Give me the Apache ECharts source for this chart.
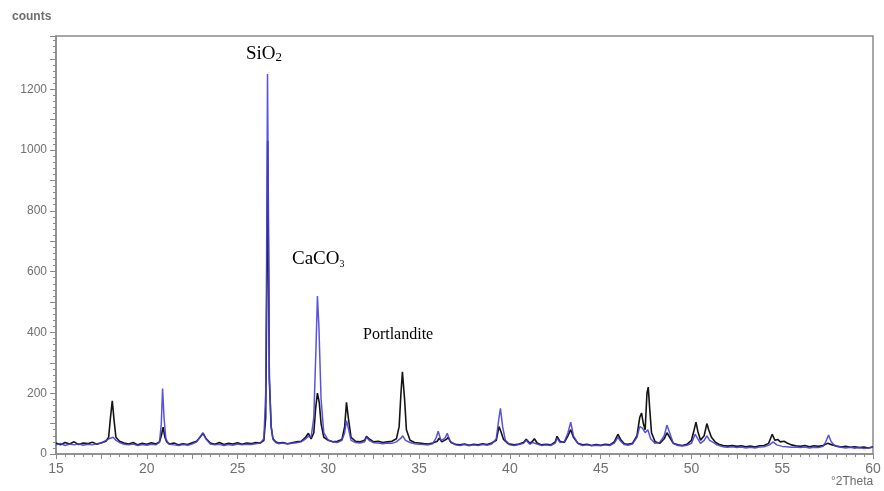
<!DOCTYPE html>
<html><head><meta charset="utf-8">
<script src="https://cdn.jsdelivr.net/npm/echarts@6/dist/echarts.min.js"></script>
<style>html,body{margin:0;padding:0;background:#fff}#c{width:884px;height:491px}</style>
</head><body><div id="c"></div>
<script>
// ---- data ----
const blackTheta = [15.0,15.25,15.5,15.75,16.0,16.25,16.5,16.75,17.0,17.25,17.5,17.75,17.9,18.0,18.1,18.2,18.3,18.5,18.75,19.0,19.25,19.5,19.75,20.0,20.25,20.5,20.7,20.8,20.9,21.0,21.1,21.25,21.5,21.75,22.0,22.25,22.5,22.75,23.0,23.1,23.25,23.5,23.75,24.0,24.25,24.5,24.75,25.0,25.25,25.5,25.75,26.0,26.25,26.45,26.55,26.62,26.66,26.7,26.75,26.85,26.95,27.1,27.25,27.5,27.75,28.0,28.25,28.5,28.75,28.9,29.05,29.2,29.3,29.4,29.5,29.6,29.75,30.0,30.25,30.5,30.75,30.9,31.0,31.1,31.25,31.5,31.75,32.0,32.1,32.25,32.5,32.75,33.0,33.25,33.5,33.75,33.9,34.0,34.08,34.2,34.3,34.5,34.75,35.0,35.25,35.5,35.75,36.0,36.1,36.25,36.5,36.6,36.75,37.0,37.25,37.5,37.75,38.0,38.25,38.5,38.75,39.0,39.25,39.4,39.5,39.65,39.9,40.25,40.5,40.75,40.9,41.1,41.25,41.35,41.5,41.75,42.0,42.25,42.5,42.6,42.75,43.0,43.2,43.35,43.5,43.75,44.0,44.25,44.5,44.75,45.0,45.25,45.5,45.75,45.95,46.1,46.3,46.5,46.75,47.0,47.15,47.25,47.35,47.45,47.55,47.62,47.7,47.8,48.0,48.25,48.5,48.65,48.8,49.0,49.25,49.5,49.75,50.0,50.15,50.25,50.35,50.5,50.7,50.85,50.95,51.1,51.3,51.5,51.75,52.0,52.25,52.5,52.75,53.0,53.25,53.5,53.75,54.0,54.25,54.45,54.6,54.75,54.9,55.1,55.3,55.5,55.75,56.0,56.25,56.5,56.75,57.0,57.25,57.5,57.75,58.0,58.25,58.5,58.75,59.0,59.25,59.5,59.75,60.0];
const blackCounts = [36,30,38,33,40,31,36,34,39,32,37,42,55,120,175,110,55,42,36,33,38,30,35,32,37,33,40,60,88,55,40,33,36,30,34,31,37,42,60,68,52,36,32,38,31,35,33,37,32,36,34,38,36,45,120,600,1030,700,245,90,50,40,36,38,34,37,40,42,55,68,50,70,150,200,170,100,55,45,40,42,48,90,170,120,55,42,40,45,58,50,40,42,38,40,42,50,90,200,270,180,80,45,38,36,34,33,36,42,52,40,48,55,38,32,30,33,29,32,30,34,31,36,45,90,75,48,34,30,33,38,48,35,42,50,36,30,32,30,40,58,42,38,60,80,55,35,30,32,28,31,29,32,30,40,65,48,34,32,35,60,120,135,100,80,200,220,150,70,40,35,50,70,55,35,30,28,32,45,80,105,75,45,60,100,80,55,40,32,28,26,28,25,27,24,26,23,27,28,35,65,45,48,40,42,35,30,27,25,28,24,27,25,28,35,30,26,23,25,22,24,21,23,20,24];

const blueTheta = [15.0,15.25,15.5,15.75,16.0,16.25,16.5,16.75,17.0,17.25,17.5,17.75,18.0,18.15,18.3,18.5,18.75,19.0,19.25,19.5,19.75,20.0,20.25,20.5,20.7,20.8,20.87,20.95,21.05,21.2,21.5,21.75,22.0,22.25,22.5,22.75,23.0,23.1,23.25,23.5,23.75,24.0,24.25,24.5,24.75,25.0,25.25,25.5,25.75,26.0,26.25,26.45,26.55,26.6,26.65,26.7,26.75,26.85,26.95,27.1,27.25,27.5,27.75,28.0,28.25,28.5,28.75,28.9,29.05,29.2,29.32,29.4,29.48,29.6,29.75,30.0,30.25,30.5,30.75,30.9,31.0,31.1,31.25,31.5,31.75,32.0,32.1,32.25,32.5,32.75,33.0,33.25,33.5,33.75,34.0,34.1,34.25,34.5,34.75,35.0,35.25,35.5,35.75,35.95,36.05,36.2,36.4,36.55,36.7,37.0,37.25,37.5,37.75,38.0,38.25,38.5,38.75,39.0,39.25,39.4,39.48,39.6,39.75,40.0,40.25,40.5,40.75,40.9,41.1,41.25,41.35,41.5,41.75,42.0,42.25,42.5,42.6,42.75,43.0,43.2,43.35,43.5,43.75,44.0,44.25,44.5,44.75,45.0,45.25,45.5,45.75,45.95,46.1,46.3,46.5,46.75,47.0,47.15,47.3,47.45,47.6,47.75,48.0,48.25,48.5,48.65,48.8,49.0,49.25,49.5,49.75,50.0,50.2,50.35,50.5,50.7,50.85,51.0,51.2,51.4,51.6,51.8,52.0,52.25,52.5,52.75,53.0,53.25,53.5,53.75,54.0,54.3,54.5,54.7,55.0,55.25,55.5,55.75,56.0,56.25,56.5,56.75,57.0,57.25,57.4,57.55,57.7,57.9,58.25,58.5,58.75,59.0,59.25,59.5,59.75,60.0];
const blueCounts = [30,35,28,33,30,34,29,32,30,34,36,45,52,55,45,38,32,30,33,28,31,29,32,30,38,100,215,120,50,33,30,28,31,29,33,40,62,70,50,33,30,32,28,31,29,33,30,32,31,34,36,50,200,640,1250,800,260,90,48,38,34,36,33,35,37,40,50,58,55,120,350,520,420,180,70,45,40,38,45,70,110,85,45,38,36,40,55,45,37,36,34,36,35,40,52,60,45,38,34,32,31,30,34,55,75,45,50,68,42,30,28,31,27,30,28,31,29,33,50,120,150,90,45,30,28,31,35,45,32,38,44,33,28,30,28,36,52,38,40,70,105,60,34,28,30,27,29,27,30,28,36,55,42,31,29,33,55,90,85,70,80,50,35,38,60,95,70,35,28,26,29,35,65,50,35,45,60,45,38,30,26,23,22,24,21,23,20,22,20,23,24,30,40,30,25,24,22,23,21,23,20,22,21,25,40,62,40,26,22,20,22,19,21,18,20,22];

const xTicks = [15, 20, 25, 30, 35, 40, 45, 50, 55, 60];
const yTicks = [0, 200, 400, 600, 800, 1000, 1200];
const seriesNames = ['sample A', 'sample B'];

const pair = (xs, ys) => xs.map((x, i) => [x, ys[i]]);

const chart = echarts.init(document.getElementById('c'), null, {renderer: 'canvas'});
const axisGray = '#8a8a8a';
chart.setOption({
  animation: false,
  backgroundColor: '#ffffff',
  grid: {left: 56, right: 11, top: 36, bottom: 37, show: true, borderColor: axisGray, borderWidth: 1.5, backgroundColor: 'transparent'},
  xAxis: {
    type: 'value', min: 15, max: 60, interval: 2.5,
    axisLine: {onZero: false, lineStyle: {color: axisGray, width: 1.5}},
    axisTick: {length: 5, lineStyle: {color: axisGray}},
    minorTick: {show: true, splitNumber: 5, length: 3, lineStyle: {color: axisGray}},
    splitLine: {show: false},
    axisLabel: {color: '#707070', fontSize: 14, fontFamily: 'Liberation Sans, Arial, sans-serif', margin: 8,
      formatter: v => xTicks.includes(v) ? String(v) : ''}
  },
  yAxis: {
    type: 'value', min: 0, max: 1375, interval: 100,
    axisLine: {show: true, lineStyle: {color: axisGray, width: 1.5}},
    axisTick: {show: true, length: 6, lineStyle: {color: axisGray}},
    minorTick: {show: true, splitNumber: 5, length: 3, lineStyle: {color: axisGray}},
    splitLine: {show: false},
    axisLabel: {color: '#707070', fontSize: 12, fontFamily: 'Liberation Sans, Arial, sans-serif', margin: 9,
      formatter: v => yTicks.includes(v) ? String(v) : ''}
  },
  series: [
    {name: seriesNames[0], type: 'line', data: pair(blackTheta, blackCounts), showSymbol: false, symbol: 'none',
      lineStyle: {color: '#151515', width: 1.6}, z: 2},
    {name: seriesNames[1], type: 'line', data: pair(blueTheta, blueCounts), showSymbol: false, symbol: 'none',
      lineStyle: {color: '#4540dc', width: 1.5, opacity: 0.9}, z: 3}
  ],
  graphic: [
    {type: 'text', left: 12, top: 11, style: {text: 'counts', fill: '#6e6e6e', font: 'bold 12px "Liberation Sans", Arial, sans-serif'}},
    {type: 'text', left: 831, top: 476, style: {text: '°2Theta', fill: '#6e6e6e', font: '12px "Liberation Sans", Arial, sans-serif'}},
    {type: 'text', left: 246, top: 45, style: {
      text: '{a|SiO}{s|2}', rich: {
        a: {fontSize: 19, fontFamily: '"Liberation Serif", "DejaVu Serif", serif', fill: '#000', verticalAlign: 'bottom'},
        s: {fontSize: 13, fontFamily: '"Liberation Serif", "DejaVu Serif", serif', fill: '#000', verticalAlign: 'bottom'}
      }}},
    {type: 'text', left: 292, top: 250, style: {
      text: '{a|CaCO}{s|3}', rich: {
        a: {fontSize: 19, fontFamily: '"Liberation Serif", "DejaVu Serif", serif', fill: '#000', verticalAlign: 'bottom'},
        s: {fontSize: 10, fontFamily: '"Liberation Serif", "DejaVu Serif", serif', fill: '#000', verticalAlign: 'bottom'}
      }}},
    {type: 'text', left: 363, top: 327, style: {text: 'Portlandite', fill: '#000', font: '16px "Liberation Serif", "DejaVu Serif", serif'}}
  ]
});
</script>
</body></html>
